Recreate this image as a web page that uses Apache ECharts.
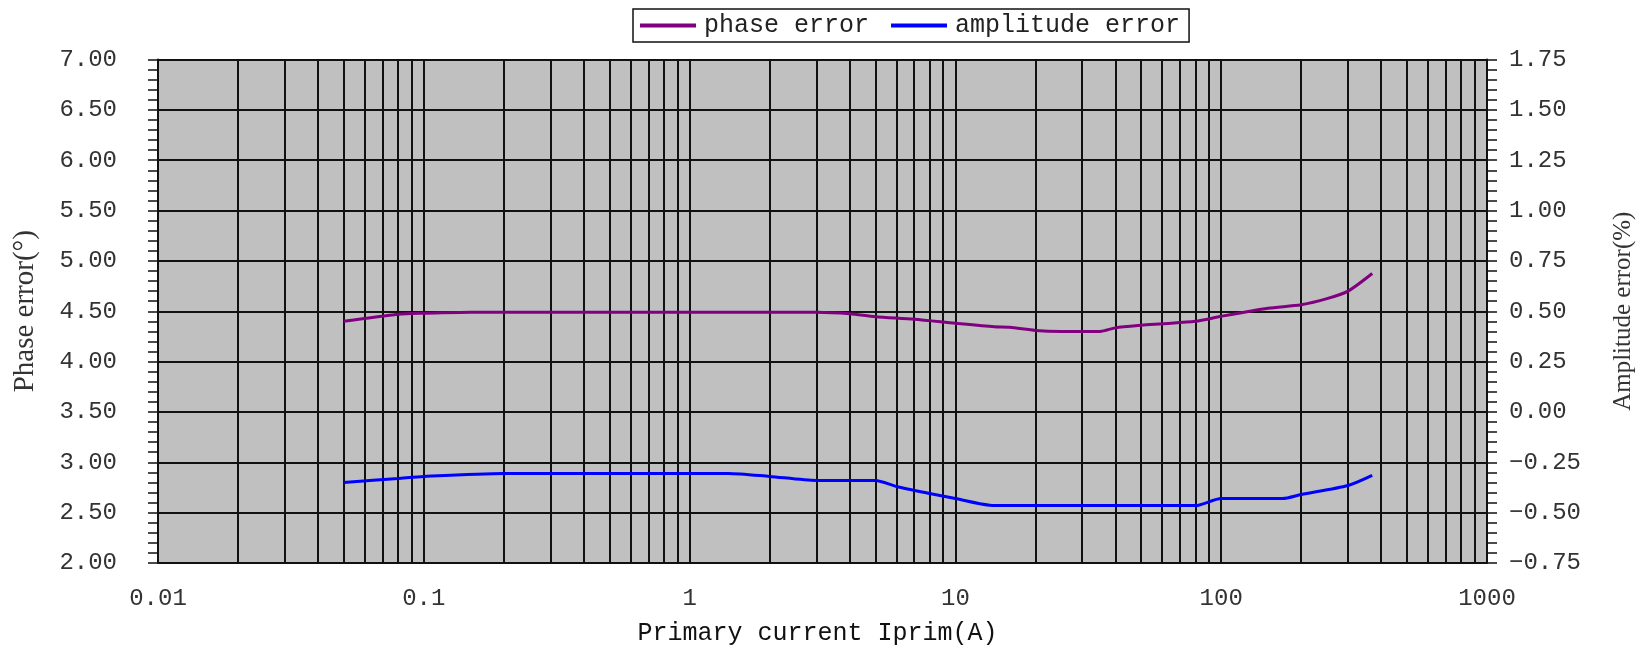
<!DOCTYPE html>
<html>
<head>
<meta charset="utf-8">
<script src="https://cdn.jsdelivr.net/npm/echarts@6/dist/echarts.min.js"></script>
<style>
html,body{margin:0;padding:0;background:#fff;overflow:hidden;}
#chart{width:1648px;height:651px;}
</style>
</head>
<body>
<div id="chart"></div>
<script>
// Primary current (A) sample points
var phaseCurrent = [0.05, 0.08, 0.1, 0.15, 0.2, 0.5, 1, 2, 3, 4, 5, 7, 10, 14, 16, 20, 25, 30, 35, 40, 50, 60, 80, 100, 150, 200, 250, 300, 370];
var phaseError   = [4.40, 4.47, 4.48, 4.49, 4.49, 4.49, 4.49, 4.49, 4.49, 4.475, 4.445, 4.42, 4.38, 4.345, 4.34, 4.31, 4.30, 4.30, 4.30, 4.335, 4.36, 4.375, 4.40, 4.45, 4.53, 4.565, 4.625, 4.70, 4.875];

var ampCurrent = [0.05, 0.08, 0.1, 0.2, 0.5, 1, 1.4, 2, 3, 5, 6, 8, 10, 14, 20, 50, 80, 100, 170, 200, 300, 370];
var ampError   = [-0.35, -0.33, -0.32, -0.305, -0.305, -0.305, -0.305, -0.32, -0.34, -0.34, -0.37, -0.405, -0.43, -0.465, -0.465, -0.465, -0.465, -0.43, -0.43, -0.41, -0.365, -0.315];

var seriesNames = ['phase error', 'amplitude error'];
var xTickLabels = ['0.01', '0.1', '1', '10', '100', '1000'];
var xName = 'Primary current Iprim(A)';
var yLeftName = 'Phase error(°)';
var yRightName = 'Amplitude error(%)';

function zip(a, b) { return a.map(function (v, i) { return [v, b[i]]; }); }

// minor log grid positions (2..9 per decade)
var minorGrid = [];
for (var d = -2; d <= 2; d++) {
  for (var k = 2; k <= 9; k++) {
    minorGrid.push({ xAxis: +(k * Math.pow(10, d)).toPrecision(3) });
  }
}

var monoFont = '"Liberation Mono", "DejaVu Sans Mono", monospace';
var serifFont = '"Liberation Serif", "DejaVu Serif", serif';
var gridLine = { color: '#111', width: 2 };

var chart = echarts.init(document.getElementById('chart'));
chart.setOption({
  animation: false,
  backgroundColor: '#ffffff',
  grid: {
    left: 158, right: 161, top: 59.5, bottom: 80.5,
    show: true, backgroundColor: '#C0C0C0', borderWidth: 0
  },
  legend: {
    data: seriesNames,
    left: 633, top: 9,
    icon: 'rect',
    itemWidth: 56, itemHeight: 4,
    itemGap: 22,
    padding: [4, 9, 4, 7],
    borderColor: '#111', borderWidth: 1.5,
    textStyle: { fontFamily: monoFont, fontSize: 25, color: '#222', padding: [0, 0, 0, 3] }
  },
  xAxis: {
    type: 'log', logBase: 10, min: 0.01, max: 1000,
    name: xName, nameLocation: 'middle', nameGap: 58,
    nameTextStyle: { fontFamily: monoFont, fontSize: 25, color: '#111', padding: [0, 10, 0, 0] },
    axisLine: { show: true, lineStyle: gridLine },
    axisTick: { show: false },
    axisLabel: {
      margin: 24, fontFamily: monoFont, fontSize: 24, color: '#333',
      formatter: function (v) {
        var i = Math.round(Math.log10(v)) + 2;
        return xTickLabels[i] !== undefined ? xTickLabels[i] : '';
      }
    },
    splitLine: { show: true, lineStyle: gridLine }
  },
  yAxis: [
    {
      type: 'value', min: 2, max: 7, interval: 0.5, position: 'left',
      name: yLeftName, nameLocation: 'middle', nameGap: 118, nameRotate: 90,
      nameTextStyle: { fontFamily: serifFont, fontSize: 29, color: '#333' },
      axisLine: { show: true, lineStyle: gridLine },
      axisTick: { show: true, inside: false, length: 10, lineStyle: { color: '#111', width: 1.5 } },
      minorTick: { show: true, splitNumber: 5, length: 10, lineStyle: { color: '#111', width: 1.5 } },
      axisLabel: {
        margin: 41, fontFamily: monoFont, fontSize: 24, color: '#333',
        formatter: function (v) { return v.toFixed(2); }
      },
      splitLine: { show: true, lineStyle: gridLine }
    },
    {
      type: 'value', min: -0.75, max: 1.75, interval: 0.25, position: 'right',
      name: yRightName, nameLocation: 'middle', nameGap: 124, nameRotate: 90,
      nameTextStyle: { fontFamily: serifFont, fontSize: 25, color: '#333' },
      axisLine: { show: true, lineStyle: gridLine },
      axisTick: { show: true, inside: false, length: 10, lineStyle: { color: '#111', width: 1.5 } },
      minorTick: { show: true, splitNumber: 5, length: 10, lineStyle: { color: '#111', width: 1.5 } },
      axisLabel: {
        margin: 22, fontFamily: monoFont, fontSize: 24, color: '#333',
        formatter: function (v) { return v.toFixed(2).replace('-', '\u2212'); }
      },
      splitLine: { show: false }
    }
  ],
  series: [
    {
      name: 'minor-grid', type: 'line', z: 1, silent: true,
      data: zip(phaseCurrent, phaseError), yAxisIndex: 0,
      showSymbol: false, lineStyle: { opacity: 0 },
      markLine: {
        silent: true, symbol: ['none', 'none'], animation: false,
        label: { show: false },
        lineStyle: { color: '#111', width: 2, type: 'solid' },
        emphasis: { disabled: true },
        data: minorGrid
      }
    },
    {
      name: seriesNames[0], type: 'line', z: 5, yAxisIndex: 0,
      data: zip(phaseCurrent, phaseError),
      smooth: 0.25, showSymbol: false,
      itemStyle: { color: '#800080' },
      lineStyle: { color: '#800080', width: 3 }
    },
    {
      name: seriesNames[1], type: 'line', z: 5, yAxisIndex: 1,
      data: zip(ampCurrent, ampError),
      smooth: 0.25, showSymbol: false,
      itemStyle: { color: '#0000FF' },
      lineStyle: { color: '#0000FF', width: 3 }
    }
  ]
});
</script>
</body>
</html>
